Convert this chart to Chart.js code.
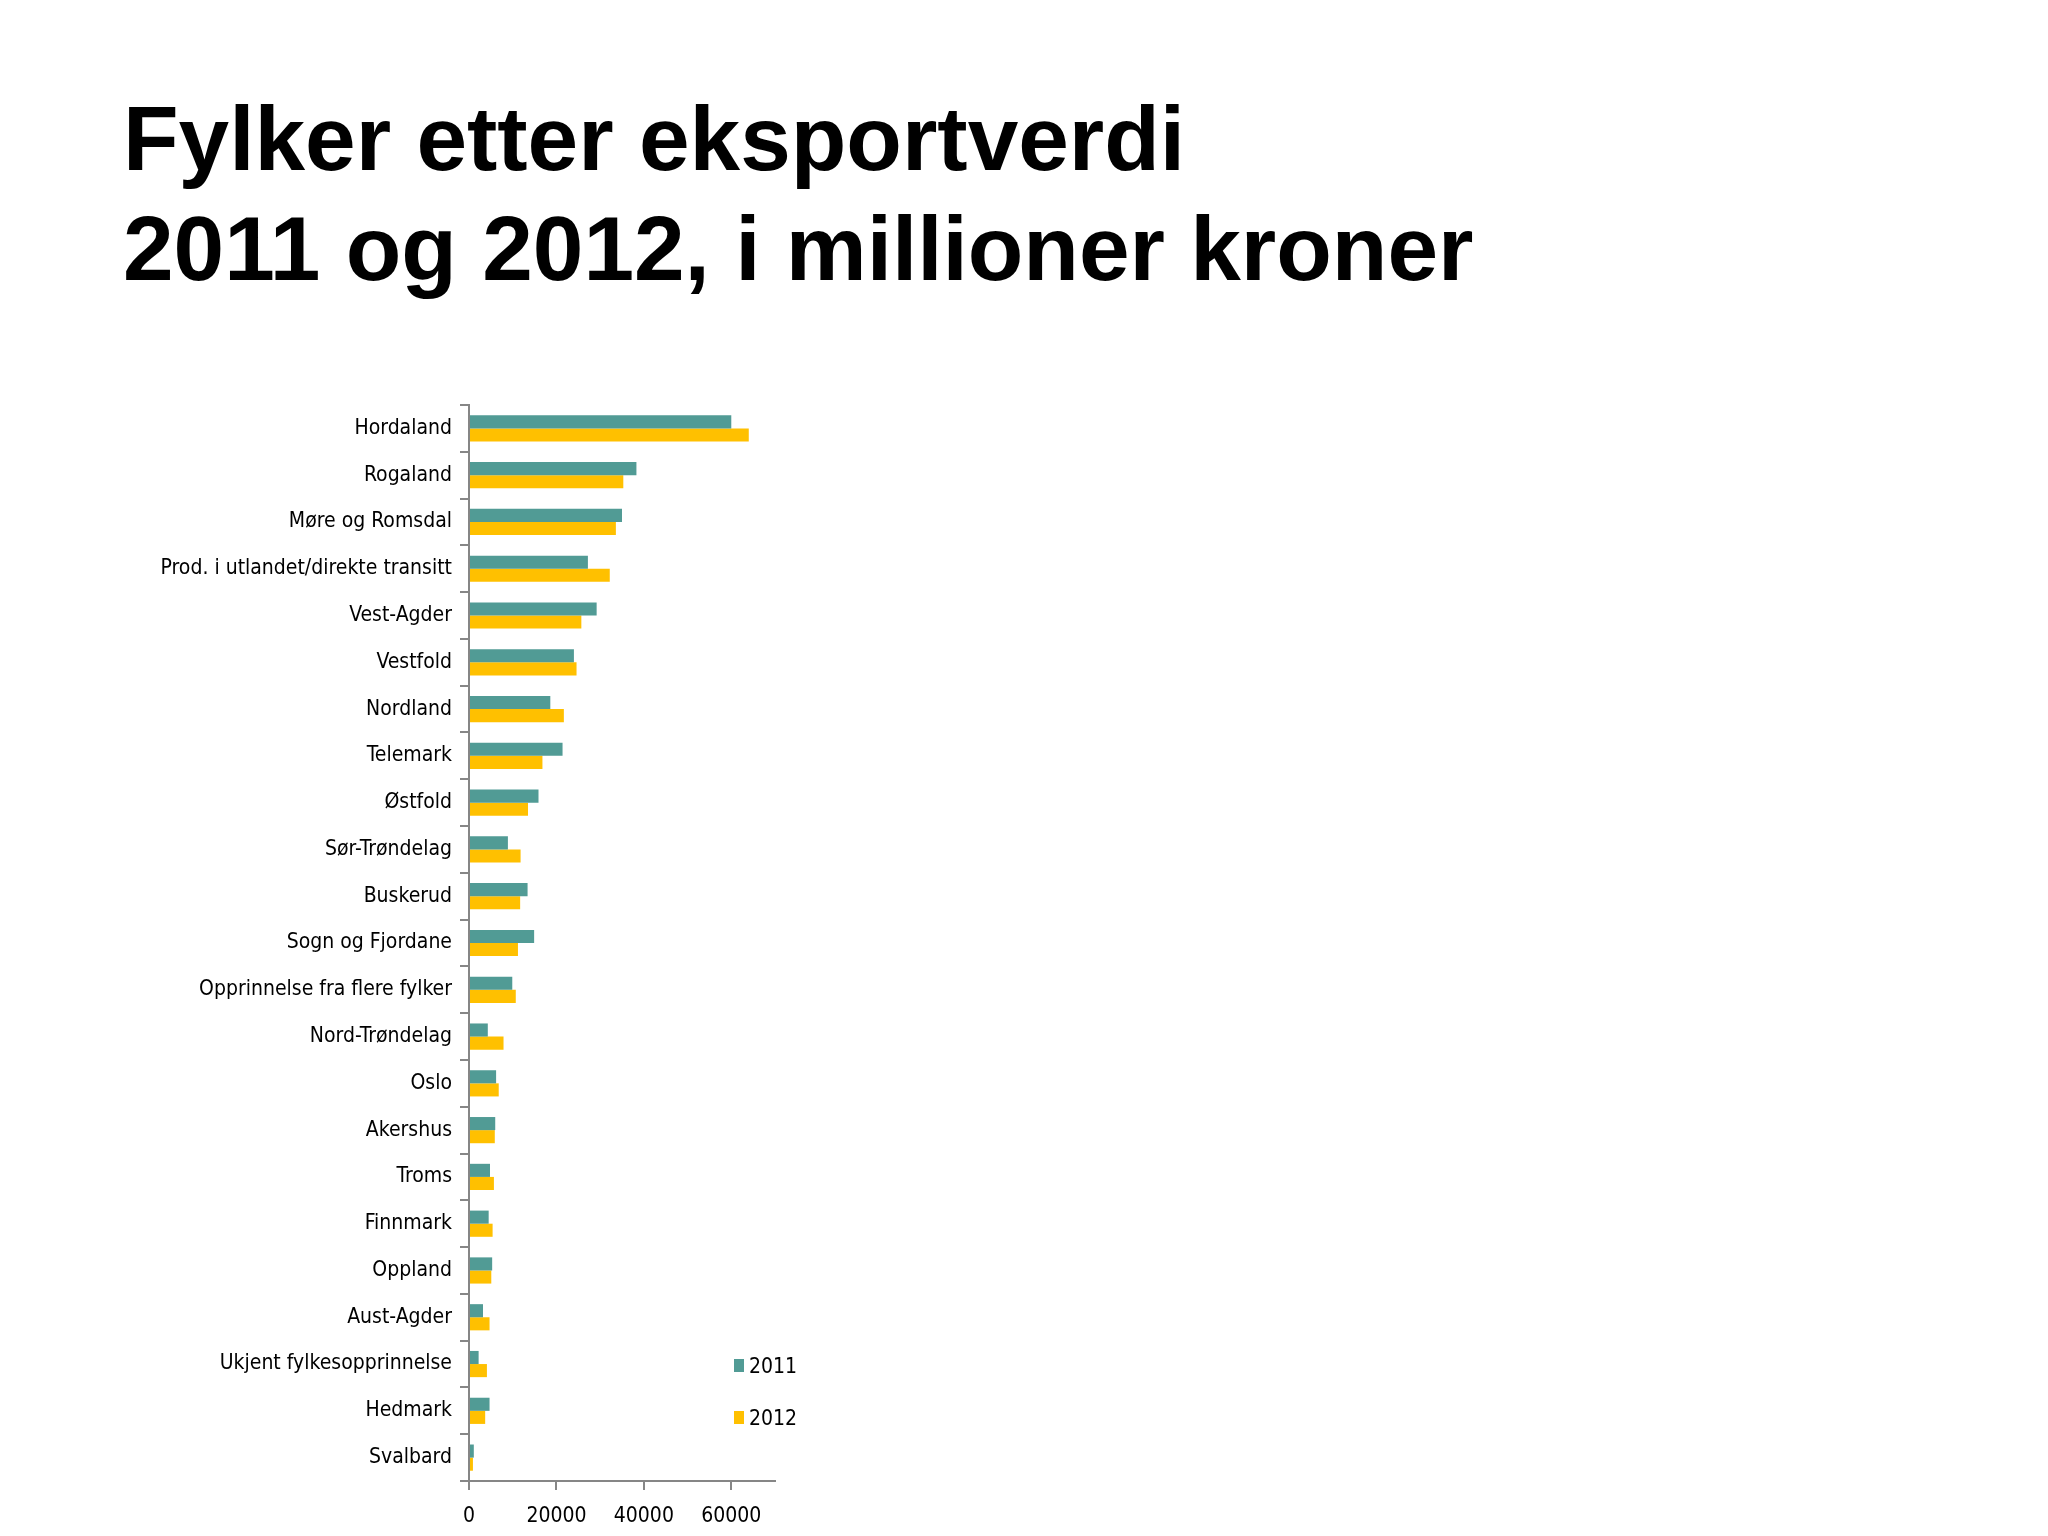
<!DOCTYPE html>
<html>
<head>
<meta charset="utf-8">
<script src="https://cdn.jsdelivr.net/npm/chart.js@4.4.1/dist/chart.umd.min.js"></script>
<style>
  html, body { margin: 0; padding: 0; background: #ffffff; }
  body { width: 2048px; height: 1536px; position: relative; overflow: hidden; }
  #title {
    position: absolute; left: 123px; top: 84px; margin: 0;
    font-family: "Liberation Sans", Arial, sans-serif; font-weight: bold;
    font-size: 91px; line-height: 110px; color: #000;
  }
  #wrap { position: absolute; left: 0; top: 330px; width: 2048px; height: 1206px; }
  .leg { position: absolute; font-family: "DejaVu Sans Condensed", "DejaVu Sans", sans-serif;
         font-size: 21px; line-height: 21px; color: #000; white-space: nowrap; }
  .leg span.box { position: absolute; left: -15px; top: 3px; width: 10px; height: 13px; }
</style>
</head>
<body>
<h1 id="title">Fylker etter eksportverdi<br>2011 og 2012, i millioner kroner</h1>
<div id="wrap"><canvas id="c"></canvas></div>
<div id="legend"></div>
<script>
const categories = [
  "Hordaland", "Rogaland", "Møre og Romsdal", "Prod. i utlandet/direkte transitt",
  "Vest-Agder", "Vestfold", "Nordland", "Telemark", "Østfold", "Sør-Trøndelag",
  "Buskerud", "Sogn og Fjordane", "Opprinnelse fra flere fylker", "Nord-Trøndelag",
  "Oslo", "Akershus", "Troms", "Finnmark", "Oppland", "Aust-Agder",
  "Ukjent fylkesopprinnelse", "Hedmark", "Svalbard"
];
const seriesNames = ["2011", "2012"];
const values2011 = [60000, 38300, 35000, 27200, 29200, 24000, 18600, 21400, 15900, 8900,
                    13400, 14900, 9900, 4300, 6200, 6000, 4800, 4500, 5300, 3200,
                    2200, 4700, 1100];
const values2012 = [64000, 35300, 33600, 32200, 25700, 24600, 21700, 16800, 13500, 11800,
                    11700, 11200, 10700, 7900, 6800, 5900, 5700, 5400, 5100, 4700,
                    4100, 3700, 900];
const xTickValues = [0, 20000, 40000, 60000];
const xMax = 70000;

const colors = ["#519B95", "#FFC000"];
const axisColor = "#868686";
const labelFont = { family: "'DejaVu Sans Condensed', 'DejaVu Sans', sans-serif", size: 21 };

const datasets = [values2011, values2012].map((vals, i) => ({
  label: seriesNames[i],
  data: vals,
  backgroundColor: colors[i],
  borderWidth: 0,
  categoryPercentage: 0.56,
  barPercentage: 1.0
}));

const chart = new Chart(document.getElementById("c"), {
  type: "bar",
  data: { labels: categories, datasets: datasets },
  options: {
    indexAxis: "y",
    responsive: true,
    maintainAspectRatio: false,
    animation: false,
    layout: { padding: { left: 0, right: 2048 - 775, top: 75, bottom: 5 } },
    plugins: { legend: { display: false }, title: { display: false }, tooltip: { enabled: false } },
    scales: {
      y: {
        type: "category",
        afterFit: (s) => { s.width = 469; },
        grid: { display: true, drawOnChartArea: false, drawTicks: true, tickLength: 9,
                color: axisColor, lineWidth: 2, offset: true },
        border: { display: true, color: axisColor, width: 2 },
        ticks: { padding: 8, color: "#000", font: labelFont, autoSkip: false }
      },
      x: {
        type: "linear",
        min: 0, max: xMax,
        afterFit: (s) => { s.height = 50; },
        afterBuildTicks: (s) => { s.ticks = xTickValues.map(v => ({ value: v })); },
        grid: { display: true, drawOnChartArea: false, drawTicks: true, tickLength: 9,
                color: axisColor, lineWidth: 2 },
        border: { display: true, color: axisColor, width: 2 },
        ticks: { padding: 14, color: "#000", font: labelFont,
                 callback: (v) => String(v) }
      }
    }
  }
});

// legend built from the datasets
const legendTops = [1356, 1408];
const legendEl = document.getElementById("legend");
chart.data.datasets.forEach((ds, i) => {
  const d = document.createElement("div");
  d.className = "leg";
  d.style.left = "749px";
  d.style.top = legendTops[i] + "px";
  const b = document.createElement("span");
  b.className = "box";
  b.style.background = ds.backgroundColor;
  d.appendChild(b);
  d.appendChild(document.createTextNode(ds.label));
  legendEl.appendChild(d);
});
</script>
</body>
</html>
